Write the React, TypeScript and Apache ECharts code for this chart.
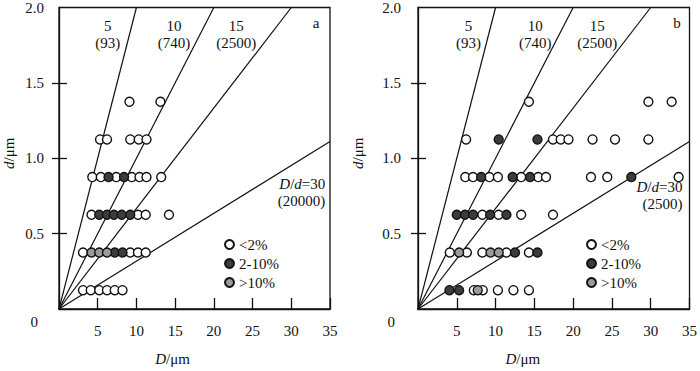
import React, { useEffect, useRef } from 'react';
import * as echarts from 'echarts';

const FONT = "'Liberation Serif', 'Times New Roman', serif";
const INK = '#111111';

// D/d ratio lines (the last line is drawn in the source figure at a slope of about 1/31.5)
const ratios = [5, 10, 15, 31.5];
const ratioLabelsA = ['5\n(93)', '10\n(740)', '15\n(2500)', '{i|D}/{i|d}=30\n(20000)'];
const ratioLabelsB = ['5\n(93)', '10\n(740)', '15\n(2500)', '{i|D}/{i|d}=30\n(2500)'];
const panelTags = ['a', 'b'];
const classNames = ['<2%', '2-10%', '>10%'];

// Panel a: [D, d]
const aClear = [
  [9.1, 1.375], [13.1, 1.375],
  [5.3, 1.125], [6.2, 1.125], [9.2, 1.125], [10.3, 1.125], [11.3, 1.125],
  [4.3, 0.875], [5.4, 0.875], [7.4, 0.875], [9.4, 0.875], [10.4, 0.875], [11.3, 0.875], [13.2, 0.875],
  [4.2, 0.625], [10.2, 0.625], [11.2, 0.625], [14.2, 0.625],
  [3.1, 0.375], [9.2, 0.375], [10.2, 0.375], [11.2, 0.375],
  [3.1, 0.125], [4.1, 0.125], [5.2, 0.125], [6.2, 0.125], [7.2, 0.125], [8.2, 0.125],
];
const aDark = [
  [6.4, 0.875], [8.4, 0.875],
  [5.2, 0.625], [6.2, 0.625], [7.1, 0.625], [8.1, 0.625], [9.2, 0.625],
  [7.2, 0.375], [8.2, 0.375],
];
const aLight = [[4.2, 0.375], [5.2, 0.375], [6.2, 0.375]];

// Panel b: [D, d]
const bClear = [
  [14.3, 1.375], [29.7, 1.375], [32.7, 1.375],
  [6.2, 1.125], [17.4, 1.125], [18.4, 1.125], [19.4, 1.125], [22.5, 1.125], [25.4, 1.125], [29.7, 1.125],
  [6.1, 0.875], [7.1, 0.875], [9.2, 0.875], [10.3, 0.875], [13.3, 0.875], [15.5, 0.875], [16.5, 0.875], [22.3, 0.875], [24.4, 0.875], [33.6, 0.875],
  [8.3, 0.625], [10.4, 0.625], [13.3, 0.625], [17.4, 0.625],
  [4.1, 0.375], [6.3, 0.375], [8.3, 0.375], [11.4, 0.375], [14.3, 0.375],
  [7.2, 0.125], [8.35, 0.125], [10.3, 0.125], [12.3, 0.125], [14.3, 0.125],
];
const bDark = [
  [10.4, 1.125], [15.4, 1.125],
  [8.15, 0.875], [12.2, 0.875], [14.45, 0.875], [27.5, 0.875],
  [5.0, 0.625], [6.05, 0.625], [7.1, 0.625], [9.3, 0.625], [11.4, 0.625],
  [12.5, 0.375], [15.4, 0.375],
  [4.05, 0.125], [5.3, 0.125],
];
const bLight = [[5.3, 0.375], [9.35, 0.375], [10.4, 0.375], [7.7, 0.125]];

const xTicks = { min: 0, max: 35, interval: 5 };
const yTicks = { min: 0, max: 2, interval: 0.5 };

// label anchor points in data units [D, d] per panel
const labelAnchorsA = [[6.3, 1.82], [14.85, 1.82], [22.9, 1.82], [34.4, 0.775]];
const labelAnchorsB = [[6.5, 1.82], [15.1, 1.82], [23.1, 1.82], [34.1, 0.75]];
const tagAnchors = [[33.2, 1.9], [33.4, 1.9]];

const fillColors = ['#ffffff', '#3c3c3c', '#9b9b9b'];

export default function App() {
  const ref = useRef<HTMLDivElement>(null);
  useEffect(() => {
    if (!ref.current) return;
    const chart = echarts.init(ref.current, undefined, { renderer: 'svg' });

    const grids = [
      { left: 55, top: 4, width: 275, height: 308 },
      { left: 418, top: 4, width: 273.5, height: 308 },
    ].map((g) => ({ ...g, show: true, borderColor: INK, borderWidth: 1.3, backgroundColor: 'transparent' }));

    const italicRich = { i: { fontStyle: 'italic', fontFamily: FONT, fontSize: 15, color: INK } };
    const xAxes = [0, 1].map((gi) => ({
      type: 'value',
      gridIndex: gi,
      ...xTicks,
      name: '{i|D}/μm',
      nameLocation: 'middle',
      nameGap: 42,
      nameTextStyle: { fontFamily: FONT, fontSize: 15, color: INK, padding: [0, gi === 0 ? 44 : 62, 0, 0], rich: italicRich },
      axisLine: { show: true, lineStyle: { color: INK, width: 1.3 } },
      axisTick: { show: true, inside: true, length: 11, lineStyle: { color: INK, width: 1.3 } },
      axisLabel: {
        fontFamily: FONT, fontSize: 15, color: INK, margin: 14,
        formatter: (v: number) => (v === 0 ? '' : String(v)),
      },
      splitLine: { show: false },
    }));

    const yMain = [0, 1].map((gi) => ({
      type: 'value',
      gridIndex: gi,
      ...yTicks,
      name: '{i|d}/μm',
      nameLocation: 'middle',
      nameGap: gi === 0 ? 43 : 53,
      nameTextStyle: { fontFamily: FONT, fontSize: 15, color: INK, padding: [0, 0, 0, 10], rich: italicRich },
      axisLine: { show: true, lineStyle: { color: INK, width: 1.3 } },
      axisTick: { show: true, inside: true, length: 8, customValues: [0.5, 1, 1.5], lineStyle: { color: INK, width: 1.3 } },
      axisLabel: {
        fontFamily: FONT, fontSize: 15, color: INK, margin: gi === 0 ? 15 : 17,
        formatter: (v: number) => (v === 0 ? '{z|0}' : v.toFixed(1)),
        rich: { z: { fontFamily: FONT, fontSize: 15, color: INK, padding: [26, 6, 0, 0] } },
      },
      splitLine: { show: false },
    }));
    const yTickOverlay = [0, 1].map((gi) => ({
      type: 'value',
      gridIndex: gi,
      position: 'left',
      ...yTicks,
      axisLine: { show: false },
      axisTick: { show: true, inside: false, length: 7, customValues: [0.5, 1, 1.5], lineStyle: { color: INK, width: 1.3 } },
      axisLabel: { show: false },
      splitLine: { show: false },
    }));

    const series: any[] = [];
    const panelData = [
      [aClear, aDark, aLight],
      [bClear, bDark, bLight],
    ];
    const ratioLabels = [ratioLabelsA, ratioLabelsB];
    const anchors = [labelAnchorsA, labelAnchorsB];

    const textLabel = (extra: any) => ({
      show: true,
      distance: 0,
      verticalAlign: 'middle',
      fontFamily: FONT,
      fontSize: 15,
      lineHeight: 17,
      color: INK,
      opacity: 1,
      textBorderWidth: 0,
      textBorderColor: 'transparent',
      rich: { i: { fontStyle: 'italic', fontFamily: FONT, fontSize: 15, lineHeight: 17, color: INK, textBorderWidth: 0 } },
      ...extra,
    });

    [0, 1].forEach((gi) => {
      ratios.forEach((k) => {
        const endD = Math.min(xTicks.max, yTicks.max * k);
        series.push({
          type: 'line',
          xAxisIndex: gi,
          yAxisIndex: gi,
          data: [[0, 0], [endD, endD / k]],
          symbol: 'none',
          lineStyle: { color: INK, width: 1.2 },
          silent: true,
          z: 1,
        });
      });
      panelData[gi].forEach((pts, ci) => {
        series.push({
          type: 'scatter',
          name: classNames[ci],
          xAxisIndex: gi,
          yAxisIndex: gi,
          data: pts,
          symbol: 'circle',
          symbolSize: 9,
          itemStyle: { color: fillColors[ci], borderColor: INK, borderWidth: 1.4, opacity: 1 },
          z: 3,
        });
      });
      ratioLabels[gi].forEach((txt, li) => {
        const isLast = li === ratioLabels[gi].length - 1;
        series.push({
          type: 'scatter',
          xAxisIndex: gi,
          yAxisIndex: gi,
          data: [anchors[gi][li]],
          symbol: 'circle',
          symbolSize: 0.1,
          itemStyle: { color: '#ffffff', opacity: 1 },
          silent: true,
          z: 4,
          label: textLabel({
            position: isLast ? 'left' : 'inside',
            align: isLast ? 'right' : 'center',
            formatter: txt,
          }),
        });
      });
      series.push({
        type: 'scatter',
        xAxisIndex: gi,
        yAxisIndex: gi,
        data: [tagAnchors[gi]],
        symbol: 'circle',
        symbolSize: 0.1,
        itemStyle: { color: '#ffffff', opacity: 1 },
        silent: true,
        label: textLabel({ position: 'inside', align: 'center', formatter: panelTags[gi] }),
      });
    });

    const legendBase = {
      orient: 'vertical',
      data: classNames,
      icon: 'circle',
      itemWidth: 9,
      itemHeight: 9,
      itemGap: 4,
      selectedMode: false,
      textStyle: { fontFamily: FONT, fontSize: 15, color: INK },
    };

    chart.setOption({
      animation: false,
      backgroundColor: '#ffffff',
      grid: grids,
      xAxis: xAxes,
      yAxis: [...yMain, ...yTickOverlay],
      legend: [
        { ...legendBase, left: 219, top: 232 },
        { ...legendBase, left: 581, top: 232 },
      ],
      series,
    });
    return () => chart.dispose();
  }, []);

  return <div ref={ref} style={{ position: 'fixed', left: 0, top: 0, width: 700, height: 371 }} />;
}
